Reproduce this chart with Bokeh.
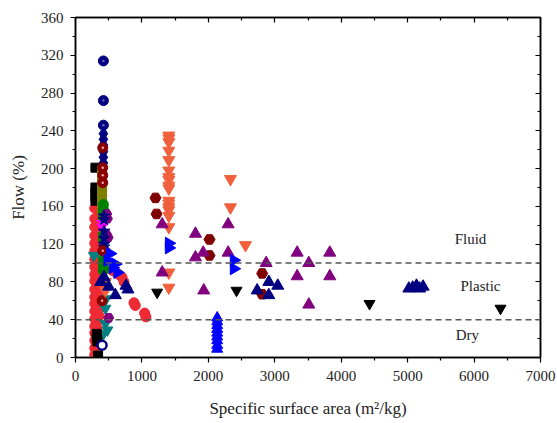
from bokeh.plotting import figure
from bokeh.models import Span, LinearAxis, FixedTicker, Range1d
from bokeh.core.properties import value
from bokeh.embed import file_html
from bokeh.resources import INLINE
import math

# ---------------- data ----------------
red_x = [290, 290, 290, 290, 290, 290, 290, 290, 290, 290, 290, 290, 290, 290, 290, 290, 290, 290, 290, 290,
         325, 325, 325, 325, 325, 325, 325, 325, 325, 325, 325, 325, 325, 325, 325, 325, 325, 325,
         355, 355, 355, 355, 355, 355, 355, 355, 355, 355, 355, 355,
         560, 610, 650, 700, 730, 880, 900, 1040, 1060]
red_y = [3, 10, 18, 26, 33, 41, 49, 57, 64, 72, 81, 88, 96, 104, 113, 121, 129, 138, 147, 158,
         6, 14, 22, 31, 38, 47, 55, 62, 70, 78, 86, 93, 102, 110, 118, 127, 141, 163,
         44, 52, 61, 69, 77, 84, 92, 99, 108, 122, 134, 150,
         92, 90, 88, 85, 80, 58, 55, 47, 43]

orange_x = [1405] * 18 + [2333, 2333, 2559, 450, 450]
orange_y = [235, 232, 228, 219, 209, 198, 191, 188, 182, 179, 166, 163, 159, 156, 150, 138, 90, 74,
            189, 159, 119, 80, 71]

darkred_pent_x = [1204, 1220, 2017, 2017, 2810, 2810]
darkred_pent_y = [169, 152, 125, 108, 89, 67]

darkred_ball_x = [410, 410, 410, 410, 410, 400]
darkred_ball_y = [222, 201, 193, 185, 113, 60]

purple_tri_x = [1305, 1305, 1806, 1806, 1922, 1931, 2298, 2298, 2870, 3337, 3337, 3512, 3512, 3828, 3828]
purple_tri_y = [141, 90, 131, 106, 111, 71, 141, 111, 100, 111, 86, 100, 56, 111, 86]

purple_hex_x = [470, 480, 470, 490, 460, 500]
purple_hex_y = [152, 147, 130, 127, 112, 42]

navy_tri_x = [2735, 2910, 2910, 3045, 5018, 5075, 5133, 5180, 5233, 380, 430, 500, 600, 760, 790]
navy_tri_y = [71, 80, 66, 76, 73, 74, 76, 73, 75, 80, 85, 75, 66, 76, 72]

navy_ball_x = [420, 420, 420]
navy_ball_y = [314, 272, 246]

navy_dia_x = [420, 420, 420, 420, 420, 420]
navy_dia_y = [237, 231, 225, 218, 212, 206]

navy_star_x = [430, 430, 430, 430, 430, 430]
navy_star_y = [150, 146, 134, 126, 120, 117]

blue_right_x = [1405, 1405, 2383, 2383, 480, 520, 560, 600, 630]
blue_right_y = [121, 116, 103, 94, 103, 110, 95, 99, 90]

blue_up_x = [2133] * 9
blue_up_y = [42, 38, 34, 30, 26, 22, 18, 13, 9]

black_down_x = [1229, 2424, 4426, 6398]
black_down_y = [69, 71, 57, 52]

black_sq_x = [300, 300, 300, 300, 300, 320, 320, 330, 340]
black_sq_y = [201, 180, 175, 170, 166, 25, 21, 17, 2]

olive_sq_x = [400, 400, 400, 400, 400, 400, 400, 400]
olive_sq_y = [198, 192, 186, 180, 174, 168, 162, 156]

green_x = [420, 420, 420, 420, 420, 420, 420, 420, 420, 420]
green_y = [162, 157, 152, 147, 130, 125, 103, 98, 95, 92]

magenta_x = [400, 405]
magenta_y = [143, 139]

teal_down_x = [276, 450, 450, 480, 420, 460, 400, 440]
teal_down_y = [108, 52, 36, 29, 25, 62, 105, 120]

navy_ring_x = [400]
navy_ring_y = [13]

x_ticks = [0, 1000, 2000, 3000, 4000, 5000, 6000, 7000]
y_ticks = [0, 40, 80, 120, 160, 200, 240, 280, 320, 360]
zone_lines = [100, 40]
zone_names = ["Fluid", "Plastic", "Dry"]
zone_x = [5946, 6097, 5900]
zone_y = [126, 76, 24]

# ---------------- figure ----------------
FONT = "'Liberation Serif', 'Times New Roman', serif"
p = figure(width=557, height=423, output_backend="svg", toolbar_location=None,
           x_range=Range1d(0, 7000), y_range=Range1d(0, 360),
           min_border_left=75, min_border_right=17, min_border_top=17, min_border_bottom=66)
p.xgrid.visible = False
p.ygrid.visible = False
p.outline_line_color = "black"
p.outline_line_width = 1.5
p.background_fill_color = "white"
p.border_fill_color = "white"

xminor = [v + 500 for v in x_ticks[:-1]]
yminor = [v + 20 for v in y_ticks[:-1]]

for ax in (p.xaxis[0], p.yaxis[0]):
    ax.axis_line_width = 1.5
    ax.major_tick_line_width = 1.2
    ax.minor_tick_line_width = 1.2
    ax.major_tick_out = 5
    ax.major_tick_in = 0
    ax.minor_tick_out = 3
    ax.minor_tick_in = 0
    ax.major_label_text_font = FONT
    ax.major_label_text_font_size = "15px"
    ax.major_label_text_color = "#222222"
    ax.axis_label_text_font = FONT
    ax.axis_label_text_font_size = "17px"
    ax.axis_label_text_font_style = "normal"
    ax.axis_label_text_color = "#222222"

p.xaxis[0].ticker = FixedTicker(ticks=x_ticks, minor_ticks=xminor)
p.yaxis[0].ticker = FixedTicker(ticks=y_ticks, minor_ticks=yminor)
p.xaxis[0].axis_label = "Specific surface area (m²/kg)"
p.yaxis[0].axis_label = "Flow (%)"
p.xaxis[0].major_label_standoff = 8
p.yaxis[0].major_label_standoff = 7
p.xaxis[0].axis_label_standoff = 15
p.yaxis[0].axis_label_standoff = 10

top = LinearAxis(ticker=FixedTicker(ticks=x_ticks, minor_ticks=xminor))
right = LinearAxis(ticker=FixedTicker(ticks=y_ticks, minor_ticks=yminor))
for ax, ticks in ((top, x_ticks), (right, y_ticks)):
    ax.axis_line_width = 1.5
    ax.major_tick_line_width = 1.2
    ax.minor_tick_line_width = 1.2
    ax.major_tick_in = 5
    ax.major_tick_out = 0
    ax.minor_tick_in = 3
    ax.minor_tick_out = 0
    ax.major_label_overrides = {t: "" for t in ticks}
    ax.major_label_standoff = 0
p.add_layout(top, "above")
p.add_layout(right, "right")

for loc in zone_lines:
    p.add_layout(Span(location=loc, dimension="width", line_color="#555555",
                      line_width=1.5, line_dash="6 4"))

S = 10
p.scatter(red_x, red_y, marker="circle", size=S, fill_color="#EE2A35", line_color="#EE2A35")
p.scatter(teal_down_x, teal_down_y, marker="inverted_triangle", size=S + 1,
          fill_color="#008080", line_color="#008080")
p.scatter(black_sq_x, black_sq_y, marker="square", size=S - 1, fill_color="black", line_color="black")
p.scatter(olive_sq_x, olive_sq_y, marker="square", size=S - 1, fill_color="#808000", line_color="#808000")
p.scatter(green_x, green_y, marker="circle", size=S, fill_color="#008000", line_color="#008000")
p.scatter(purple_hex_x, purple_hex_y, marker="hex", size=S, fill_color="#800080", line_color="#800080")
p.scatter(magenta_x, magenta_y, marker="star", size=S + 2, fill_color="#FF00FF", line_color="#FF00FF")
p.scatter(navy_star_x, navy_star_y, marker="star", size=S + 2, fill_color="#000080", line_color="#000080")
p.scatter(navy_dia_x, navy_dia_y, marker="diamond", size=S + 3, fill_color="#000080", line_color="#000080")
p.scatter(navy_ball_x, navy_ball_y, marker="circle", size=S, fill_color="#000080", line_color="#000080")
p.scatter(navy_ball_x, navy_ball_y, marker="circle", size=2.5, fill_color="#6666BB", line_color=None)
p.scatter(darkred_ball_x, darkred_ball_y, marker="circle", size=S, fill_color="#880000", line_color="#880000")
p.scatter(darkred_ball_x, darkred_ball_y, marker="circle", size=2.5, fill_color="#EEAAAA", line_color=None)
p.scatter(navy_ring_x, navy_ring_y, marker="circle", size=S - 1, fill_color="white", line_color="#000080",
          line_width=2.5)
p.scatter(orange_x, orange_y, marker="inverted_triangle", size=S + 2, fill_color="#F0603C", line_color="#F0603C")
p.scatter(darkred_pent_x, darkred_pent_y, marker="hex", size=S + 1, fill_color="#800000", line_color="#800000")
p.scatter(purple_tri_x, purple_tri_y, marker="triangle", size=S + 2, fill_color="#800080", line_color="#800080")
p.scatter(navy_tri_x, navy_tri_y, marker="triangle", size=S + 2, fill_color="#000080", line_color="#000080")
p.scatter(blue_right_x, blue_right_y, marker="triangle", angle=-math.pi / 2, size=S + 2,
          fill_color="#0000FF", line_color="#0000FF")
p.scatter(blue_up_x, blue_up_y, marker="triangle", size=S + 1, fill_color="#0000FF", line_color="#0000FF")
p.scatter(black_down_x, black_down_y, marker="inverted_triangle", size=S + 1,
          fill_color="black", line_color="black")

p.text(x=zone_x, y=zone_y, text=zone_names, text_font=value(FONT), text_font_size="15px",
       text_color="#222222", text_align="center", text_baseline="middle")

open("out.html", "w").write(file_html(p, INLINE))
